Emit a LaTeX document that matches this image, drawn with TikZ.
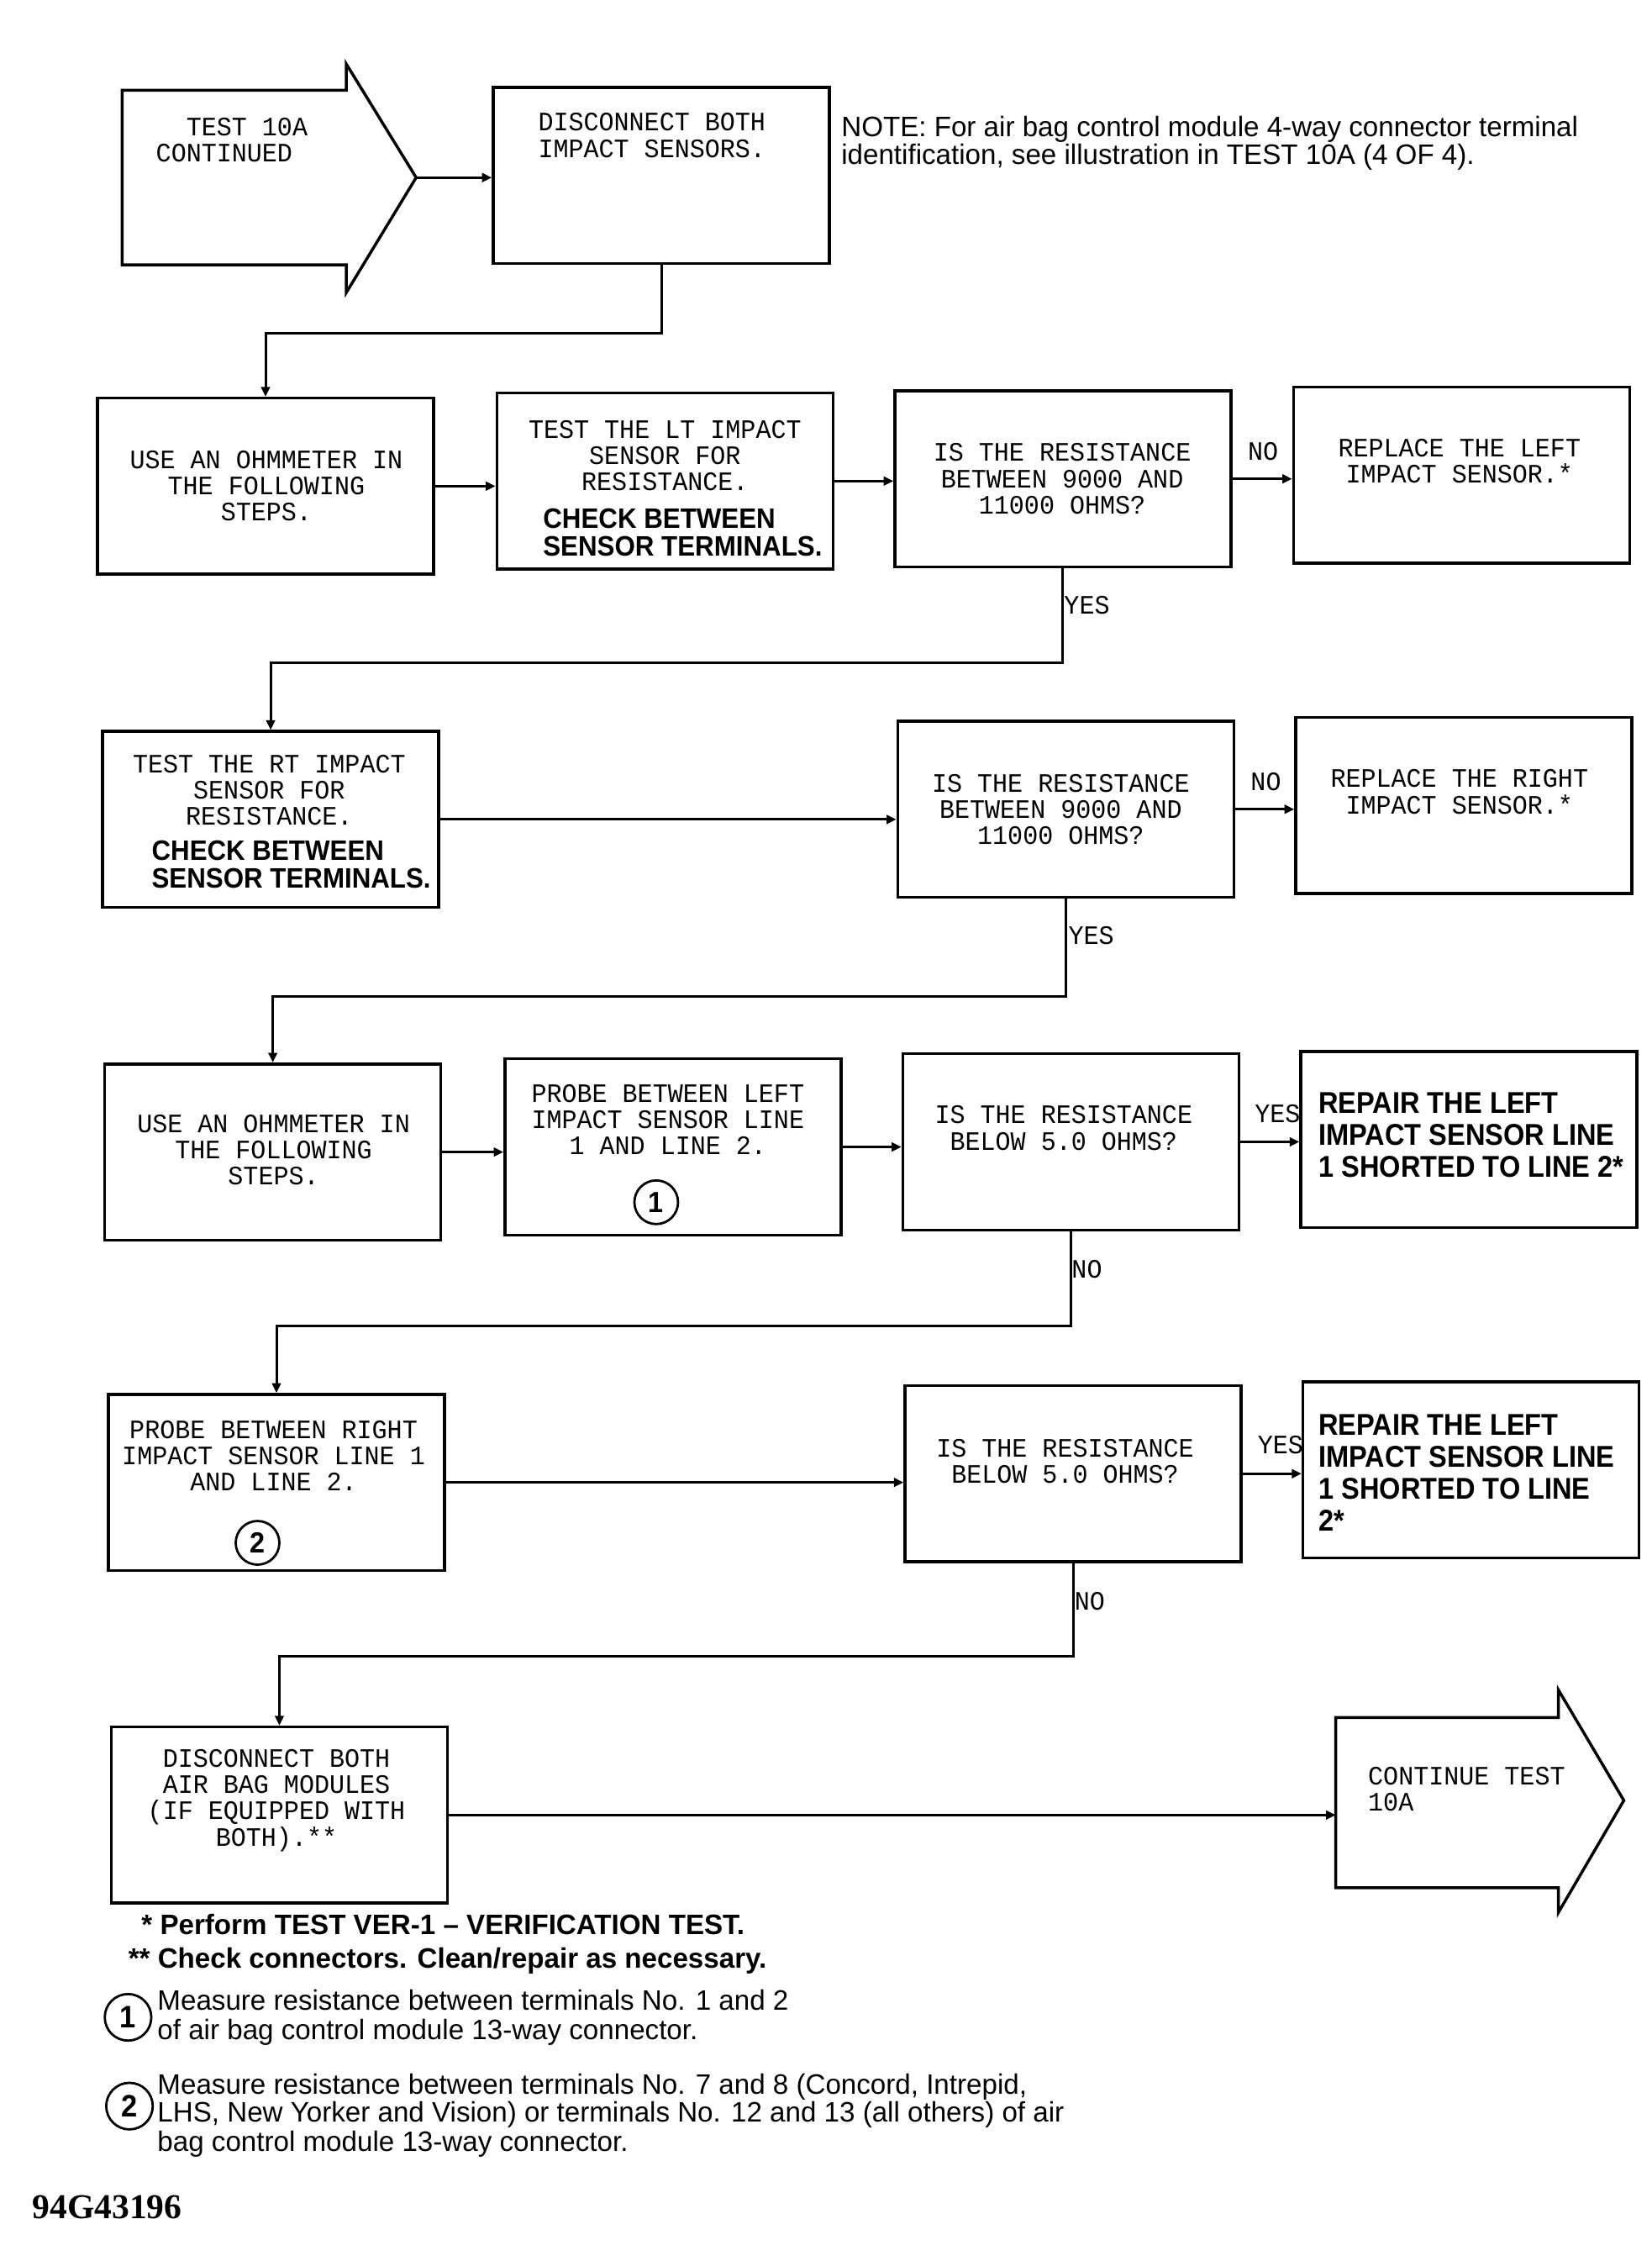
\documentclass[tikz,border=0pt]{standalone}
\usepackage{fontspec}
\setmainfont{Liberation Sans}
\newfontfamily\plotf[FakeStretch=0.95]{Liberation Mono}
\newfontfamily\helvc[FakeStretch=0.935]{Liberation Sans}
\newfontfamily\helvr[FakeStretch=0.91]{Liberation Sans}
\newfontfamily\helvn[FakeStretch=0.99]{Liberation Sans}
\newfontfamily\timesf{Liberation Serif}
\usetikzlibrary{arrows.meta}
\newlength\U \setlength\U{0.75pt}
\begin{document}
\begin{tikzpicture}[x=0.75pt,y=-0.75pt,
  box/.style={draw,line width=1.5pt,minimum width=231\U,minimum height=121\U,inner sep=0pt},
  ptxt/.style={font=\plotf\fontsize{13.7}{13.5}\selectfont,align=center,inner sep=0pt},
  btxt/.style={font=\helvc\bfseries\fontsize{14.5}{14.3}\selectfont,align=left,inner sep=0pt,anchor=west},
  btxtb/.style={font=\helvr\bfseries\fontsize{15.5}{16.5}\selectfont,align=left,inner sep=0pt,anchor=west},
  circ/.style={draw,circle,line width=1.2pt,minimum size=30\U,inner sep=0pt,font=\helvc\bfseries\fontsize{15}{15}\selectfont},
  fcirc/.style={draw,circle,line width=1.2pt,minimum size=32\U,inner sep=0pt,font=\helvc\bfseries\fontsize{16}{16}\selectfont},
  fn/.style={font=\helvn\fontsize{14.5}{14.5}\selectfont,inner sep=0pt,anchor=base west},
  fnb/.style={font=\helvn\bfseries\fontsize{14.5}{14.5}\selectfont,inner sep=0pt,anchor=base west},
  arr/.style={line width=1.3pt,-{Triangle[length=5pt,width=4.5pt]}},
  shp/.style={line width=1.5pt,line join=miter}]
\useasboundingbox (0,0) rectangle (1135,1550);

% start arrow
\draw[shp] (84,62) -- (238,62) -- (238,44) -- (286,122) -- (238,201) -- (238,182) -- (84,182) -- cycle;
\coordinate (tip1) at (286,122);
\node[ptxt,align=left,anchor=west] (ttest) at (107,96) {~~TEST 10A\\CONTINUED};

% boxes
\node[box] (disc)   at (454.5,120.5) {};
\node[box] (use1)   at (182.5,334) {};
\node[box] (lt)     at (457,330.5) {};
\node[box] (q1)     at (730.5,329) {};
\node[box] (rep1)   at (1004.5,326.5) {};
\node[box] (rt)     at (186,563) {};
\node[box] (q2)     at (732.5,556) {};
\node[box] (rep2)   at (1006,553.5) {};
\node[box] (use2)   at (187.5,791.5) {};
\node[box] (probeL) at (462.5,788) {};
\node[box] (q3)     at (736,784.5) {};
\node[box] (repL1)  at (1009.5,783) {};
\node[box] (probeR) at (190,1018.5) {};
\node[box] (q4)     at (737.5,1012.5) {};
\node[box] (repL2)  at (1011,1010) {};
\node[box] (discAB) at (192,1247) {};

% end arrow
\draw[shp] (918,1180) -- (1071,1180) -- (1071,1161) -- (1116,1237) -- (1071,1314) -- (1071,1297) -- (918,1297) -- cycle;
\coordinate (contw) at (918,1240);
\node[ptxt,align=left,anchor=west] (tcont) at (940,1229) {CONTINUE TEST\\10A};

% box texts
\node[ptxt] (tdisc) at (448,93) {DISCONNECT BOTH\\IMPACT SENSORS.};
\node[ptxt] (tuse1) at (183,334) {USE AN OHMMETER IN\\THE FOLLOWING\\STEPS.};
\node[ptxt] (tlt) at (457,313) {TEST THE LT IMPACT\\SENSOR FOR\\RESISTANCE.};
\node[btxt] (clt) at (373,366) {CHECK BETWEEN\\SENSOR TERMINALS.};
\node[ptxt] (tq1) at (730,329) {IS THE RESISTANCE\\BETWEEN 9000 AND\\11000 OHMS?};
\node[ptxt] (trep1) at (1003,317) {REPLACE THE LEFT\\IMPACT SENSOR.*};
\node[ptxt] (trt) at (185,543) {TEST THE RT IMPACT\\SENSOR FOR\\RESISTANCE.};
\node[btxt] (crt) at (104,594) {CHECK BETWEEN\\SENSOR TERMINALS.};
\node[ptxt] (tq2) at (729,556) {IS THE RESISTANCE\\BETWEEN 9000 AND\\11000 OHMS?};
\node[ptxt] (trep2) at (1003,544) {REPLACE THE RIGHT\\IMPACT SENSOR.*};
\node[ptxt] (tuse2) at (188,790) {USE AN OHMMETER IN\\THE FOLLOWING\\STEPS.};
\node[ptxt] (tpl) at (459,769) {PROBE BETWEEN LEFT\\IMPACT SENSOR LINE\\1 AND LINE 2.};
\node[circ] (c1) at (451,826) {1};
\node[ptxt] (tq3) at (731,775) {IS THE RESISTANCE\\BELOW 5.0 OHMS?};
\node[btxtb] (tr1) at (906,780) {REPAIR THE LEFT\\IMPACT SENSOR LINE\\1 SHORTED TO LINE 2*};
\node[ptxt] (tpr) at (188,1000) {PROBE BETWEEN RIGHT\\IMPACT SENSOR LINE 1\\AND LINE 2.};
\node[circ] (c2) at (177,1060) {2};
\node[ptxt] (tq4) at (732,1004) {IS THE RESISTANCE\\BELOW 5.0 OHMS?};
\node[btxtb] (tr2) at (906,1012) {REPAIR THE LEFT\\IMPACT SENSOR LINE\\1 SHORTED TO LINE\\2*};
\node[ptxt] (tdab) at (190,1237) {DISCONNECT BOTH\\AIR BAG MODULES\\(IF EQUIPPED WITH\\BOTH).**};

% branch labels
\node[ptxt] (lno1) at (868,310) {NO};
\node[ptxt] (lyes1) at (747,416) {YES};
\node[ptxt] (lno2) at (870,537) {NO};
\node[ptxt] (lyes2) at (750,643) {YES};
\node[ptxt] (lyes3) at (878,765) {YES};
\node[ptxt] (lno3) at (747,872) {NO};
\node[ptxt] (lyes4) at (880,993) {YES};
\node[ptxt] (lno4) at (749,1100) {NO};

% connectors
\draw[arr] (tip1) -- (tip1 -| disc.west);
\draw[arr] (disc.south) -- ++(0,47) -| (use1.north);
\draw[arr] (use1.east) -- (use1.east -| lt.west);
\draw[arr] (lt.east) -- (lt.east -| q1.west);
\draw[arr] (q1.east) -- (q1.east -| rep1.west);
\draw[arr] (q1.south) -- ++(0,65) -| (rt.north);
\draw[arr] (rt.east) -- (rt.east -| q2.west);
\draw[arr] (q2.east) -- (q2.east -| rep2.west);
\draw[arr] (q2.south) -- ++(0,67) -| (use2.north);
\draw[arr] (use2.east) -- (use2.east -| probeL.west);
\draw[arr] (probeL.east) -- (probeL.east -| q3.west);
\draw[arr] (q3.east) -- (q3.east -| repL1.west);
\draw[arr] (q3.south) -- ++(0,65) -| (probeR.north);
\draw[arr] (probeR.east) -- (probeR.east -| q4.west);
\draw[arr] (q4.east) -- (q4.east -| repL2.west);
\draw[arr] (q4.south) -- ++(0,64) -| (discAB.north);
\draw[arr] (discAB.east) -- (discAB.east -| contw);

% note
\node[fn] (note) at (578,94) {NOTE: For air bag control module 4-way connector terminal};
\node[fn] (note2) at (578,113) {identification, see illustration in TEST 10A (4 OF 4).};

% footnotes
\node[fnb] (f1) at (97,1329) {* Perform TEST VER-1 – VERIFICATION TEST.};
\node[fnb] (f2) at (88,1352) {** Check connectors. Clean/repair as necessary.};
\node[fcirc] (fc1) at (88,1386) {1};
\node[fn] (f3) at (108,1381) {Measure resistance between terminals No. 1 and 2};
\node[fn] (f4) at (108,1401) {of air bag control module 13-way connector.};
\node[fcirc] (fc2) at (89,1447) {2};
\node[fn] (f5) at (108,1439) {Measure resistance between terminals No. 7 and 8 (Concord, Intrepid,};
\node[fn] (f6) at (108,1458) {LHS, New Yorker and Vision) or terminals No. 12 and 13 (all others) of air};
\node[fn] (f7) at (108,1478) {bag control module 13-way connector.};
\node[font=\timesf\bfseries\fontsize{18}{18}\selectfont,inner sep=0pt,anchor=base west] (code) at (22,1524) {94G43196};
\end{tikzpicture}
\end{document}
